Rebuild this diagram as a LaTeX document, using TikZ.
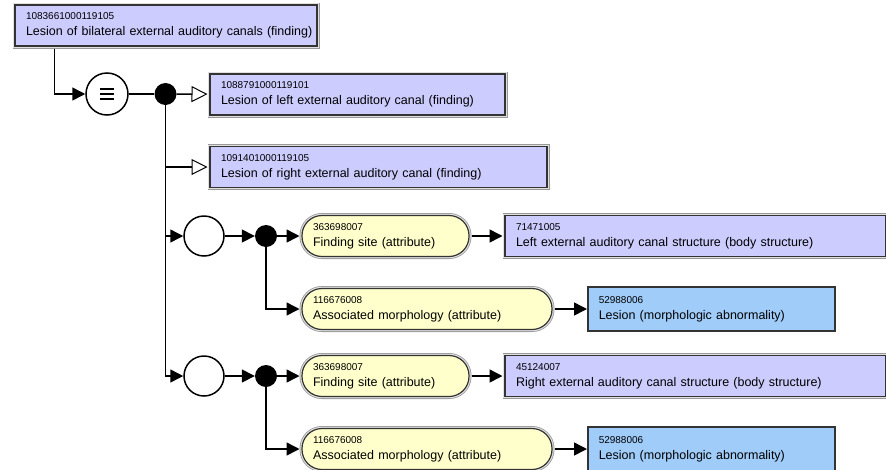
\documentclass[tikz,border=0pt]{standalone}
\usepackage{fontspec}
\setmainfont{Liberation Sans}
\usetikzlibrary{arrows.meta}

\definecolor{defined}{RGB}{204,204,255}
\definecolor{attribute}{RGB}{255,255,204}
\definecolor{morph}{RGB}{160,204,250}
\newcommand{\sctid}[1]{{\fontsize{10}{16}\selectfont #1}\\}

\begin{document}
\begin{tikzpicture}[x=1pt, y=-1pt,
    every node/.style={font=\fontsize{12.5}{16}\selectfont, inner sep=0pt},
    frame/.style={preaction={draw=black!40, line width=5pt},
      preaction={draw=black!12, line width=3.4pt},
      draw=black!80, line width=1.2pt, outer sep=2.5pt},
    concept/.style={frame, fill=defined, anchor=west, align=left,
      text width=#1, inner xsep=11pt, minimum height=41pt},
    attr/.style={frame, fill=attribute, rounded corners=20pt, anchor=west,
      align=left, text width=#1, inner xsep=11pt, minimum height=41pt},
    morphbox/.style={draw=black!80, line width=1.5pt, fill=morph, anchor=west,
      align=left, text width=#1, inner xsep=11pt, minimum height=44pt, outer sep=0.75pt},
    eqv/.style={circle, draw, line width=1.5pt, fill=white, minimum size=42pt},
    group/.style={circle, draw, line width=1.5pt, fill=white, minimum size=40pt},
    dot/.style={circle, fill=black, minimum size=22pt},
    arr/.style={line width=1.5pt, -{Triangle[length=13pt,width=13pt]}},
    isa/.style={line width=1.5pt, -{Triangle[open,length=16pt,width=16pt,line width=1pt,fill=white]}}
  ]
  \useasboundingbox (0,0) rectangle (886,469);

  % Focus concept and its parents
  \node[concept=280] (top) at (12.5,25.5) {\sctid{1083661000119105}\mbox{Lesion of bilateral external auditory canals (finding)}};
  \node[eqv] (eq) at (107,94) {};
  \foreach \d in {-5,0,5}
    \draw[line width=2.2pt] ([xshift=-7pt,yshift=\d pt]eq.center) -- ++(14pt,0pt);
  \node[dot] (dot1) at (165.5,94) {};
  \node[concept=273] (left) at (207.5,94.5) {\sctid{1088791000119101}Lesion of left external auditory canal (finding)};
  \node[concept=315] (right) at (207.5,167) {\sctid{1091401000119105}Lesion of right external auditory canal (finding)};

  \draw[arr] ([xshift=42pt]top.south west) |- (eq);
  \draw[line width=1.5pt] (eq) -- (dot1);
  \draw[isa] (dot1) -- (left);
  \draw[isa] (dot1) |- (right);

  % Role groups
  \foreach \y/\site/\sitename [count=\n] in {
      236/71471005/Left external auditory canal structure (body structure),
      376/45124007/Right external auditory canal structure (body structure)} {
    \node[group] (g\n) at (204,\y) {};
    \node[dot] (gdot\n) at (266,\y) {};
    \node[attr=145] (fs\n) at (299.5,\y) {\sctid{363698007}Finding site (attribute)};
    \node[concept=359] (site\n) at (502.5,\y) {\sctid{\site}\sitename};
    \node[attr=228] (am\n) at (299.5,\y+73) {\sctid{116676008}Associated morphology (attribute)};
    \node[morphbox=225] (morph\n) at (587,\y+73) {\sctid{52988006}Lesion (morphologic abnormality)};

    \draw[arr] (dot1) |- (g\n);
    \draw[arr] (g\n) -- (gdot\n);
    \draw[arr] (gdot\n) -- (fs\n);
    \draw[arr] (fs\n) -- (site\n);
    \draw[arr] (gdot\n) |- (am\n);
    \draw[arr] (am\n) -- (morph\n);
  }
\end{tikzpicture}
\end{document}
